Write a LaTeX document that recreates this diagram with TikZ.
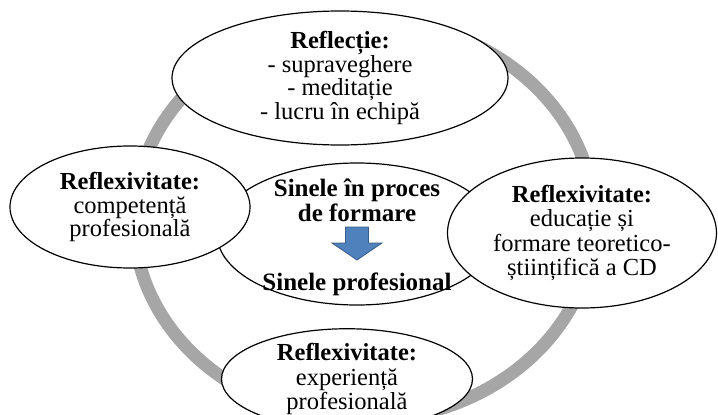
\documentclass[tikz,border=0pt]{standalone}
\usepackage{fontspec}
\setmainfont{Liberation Serif}
\usetikzlibrary{shapes.geometric}
\definecolor{ringgray}{HTML}{A6A6A6}
\definecolor{arrowblue}{HTML}{4F81BD}
\definecolor{arrowedge}{HTML}{385D8A}

\begin{document}
\begin{tikzpicture}[
    x=1pt, y=-1pt,
    every node/.style={font=\fontsize{24.5}{23.5}\selectfont},
    bubble/.style={ellipse, draw=black, line width=1.2pt, fill=white, inner sep=0pt, align=center},
    wide/.style={font=\fontsize{24.5}{24.3}\selectfont},
    ring/.style={draw=ringgray, line width=13pt},
    txt/.style={align=center, inner sep=0pt, font=\fontsize{25}{25}\selectfont\bfseries},
    ]
    \useasboundingbox (0,0) rectangle (718,415);

    \draw [ring] (364,220) ellipse [x radius=230pt, y radius=200pt];

    \node (refl) [bubble, minimum width=336pt, minimum height=134pt] at (340,78)
        {\textbf{Reflecție:}\\- supraveghere\\- meditație\\- lucru în echipă};
    \node (self) [bubble, minimum width=280pt, minimum height=142pt] at (357,234) {};
    \node (comp) [bubble, minimum width=240pt, minimum height=122pt] at (130,207)
        {\textbf{Reflexivitate:}\\competență\\profesională};
    \node (edu) [bubble, wide, minimum width=269pt, minimum height=150pt] at (582,233)
        {\textbf{Reflexivitate:}\\educație și\\formare teoretico-\\științifică a CD};
    \node (exp) [bubble, wide, minimum width=251pt, minimum height=90pt] at (347,379)
        {\textbf{Reflexivitate:}\\experiență\\profesională};

    % arrow inside the self ellipse
    \node (inproc) [txt] at (357,200) {Sinele în proces\\de formare};
    \node (prof) [txt, anchor=base] at (357,290) {Sinele profesional};
    \filldraw [fill=arrowblue, draw=arrowedge, line width=0.8pt]
        (345.5,227) -- (368.5,227) -- (368.5,243) -- (382,243)
        -- (357,260) -- (332,243) -- (345.5,243) -- cycle;
\end{tikzpicture}
\end{document}
